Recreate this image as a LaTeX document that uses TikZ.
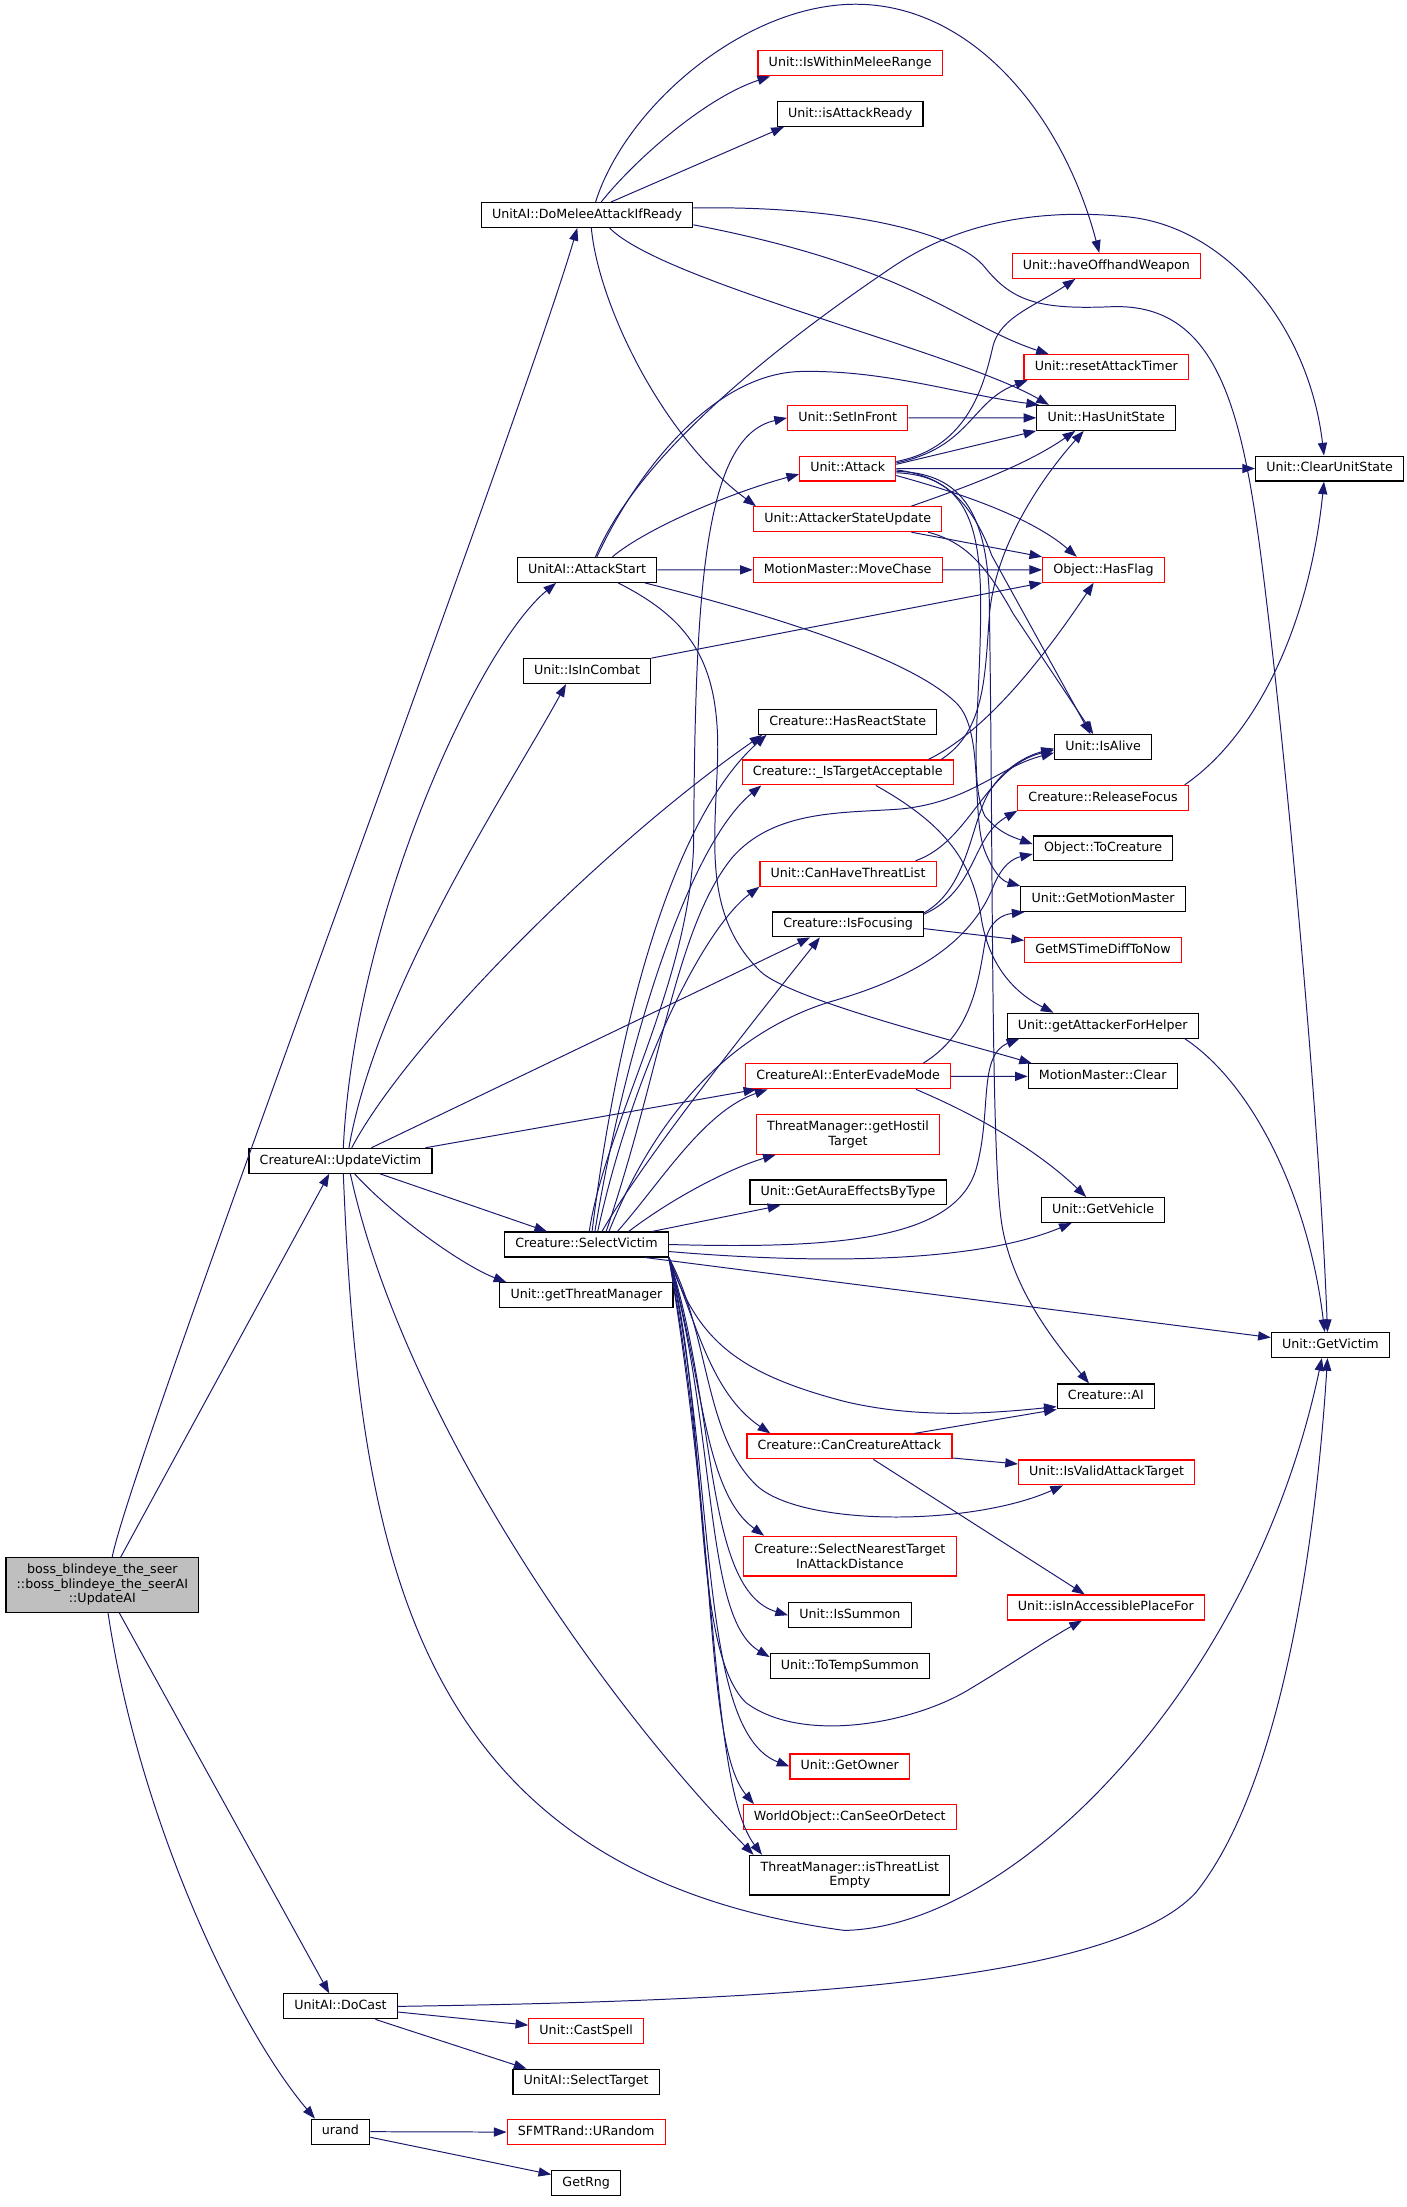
\documentclass[tikz,border=0pt]{standalone}
\usepackage{fontspec}
\setmainfont{DejaVu Sans}
\usetikzlibrary{arrows.meta,positioning}
\definecolor{edgeblue}{RGB}{25,25,112}
\definecolor{bossgray}{RGB}{191,191,191}

\begin{document}
\begin{tikzpicture}[
        x=1pt, y=-1pt,
        node distance=17.5pt,
        >={Triangle[length=9pt,width=6.5pt]},
        box/.style={draw=black, line width=0.8pt, inner xsep=7.6pt, inner ysep=0pt, font=\fontsize{9}{10.3}\selectfont},
        fn/.style={box, minimum height=17.7pt, text height=6.6pt, text depth=1.9pt},
        fnred/.style={fn, draw=red},
        fntwo/.style={box, align=center, minimum height=28.2pt},
        fntwored/.style={fntwo, draw=red},
        e/.style={->, draw=edgeblue, line width=0.7pt}
    ]
    \useasboundingbox (0,0) rectangle (1000,1568.6);

    % Nodes
    \node (boss) [box, fill=bossgray, align=center, minimum height=38.7pt] at (72.75,1126.5) {boss\_blindeye\_the\_seer\\::boss\_blindeye\_the\_seerAI\\::UpdateAI};

    \node (domelee) [fn] at (417.3,152.8) {UnitAI::DoMeleeAttackIfReady};
    \node (attackstart) [fn] at (417.25,405) {UnitAI::AttackStart};
    \node (isincombat) [fn] at (417.25,477) {Unit::IsInCombat};
    \node (updatevictim) [fn] at (242,825) {CreatureAI::UpdateVictim};
    \node (selectvictim) [fn] at (416.8,884.5) {Creature::SelectVictim};
    \node (getthreatmgr) [fn, below=of selectvictim] {Unit::getThreatManager};
    \node (docast) [fn] at (242,1426) {UnitAI::DoCast};
    \node (urand) [fn] at (242,1515) {urand};

    \node (withinmelee) [fnred] at (604.25,45) {Unit::IsWithinMeleeRange};
    \node (attackready) [fn, below=of withinmelee] {Unit::isAttackReady};
    \node (setinfront) [fnred] at (602.5,297) {Unit::SetInFront};
    \node (attack) [fnred, below=of setinfront] {Unit::Attack};
    \node (attackerstate) [fnred, below=of attack] {Unit::AttackerStateUpdate};
    \node (movechase) [fnred, below=of attackerstate] {MotionMaster::MoveChase};
    \node (hasreact) [fn] at (602.5,513) {Creature::HasReactState};
    \node (targetacc) [fnred, below=of hasreact] {Creature::\_IsTargetAcceptable};
    \node (canthreat) [fnred] at (602.75,621) {Unit::CanHaveThreatList};
    \node (isfocusing) [fn, below=of canthreat] {Creature::IsFocusing};
    \node (evade) [fnred] at (602.75,765) {CreatureAI::EnterEvadeMode};
    \node (hostiltarget) [fntwored, below=of evade] {ThreatManager::getHostil\\Target};
    \node (auraeffects) [fn, below=of hostiltarget] {Unit::GetAuraEffectsByType};
    \node (cancreature) [fnred] at (603.75,1028) {Creature::CanCreatureAttack};
    \node (selectnearest) [fntwored] at (604,1106) {Creature::SelectNearestTarget\\InAttackDistance};
    \node (issummon) [fn] at (604,1148) {Unit::IsSummon};
    \node (totemp) [fn, below=of issummon] {Unit::ToTempSummon};
    \node (getowner) [fnred] at (604,1255.5) {Unit::GetOwner};
    \node (canseeor) [fnred, below=of getowner] {WorldObject::CanSeeOrDetect};
    \node (threatempty) [fntwo, below=of canseeor] {ThreatManager::isThreatList\\Empty};
    \node (castspell) [fnred] at (416.6,1443.5) {Unit::CastSpell};
    \node (selecttarget) [fn, below=of castspell] {UnitAI::SelectTarget};
    \node (urandom) [fnred, below=of selecttarget] {SFMTRand::URandom};
    \node (getrng) [fn, below=of urandom] {GetRng};

    \node (offhand) [fnred] at (786.3,189) {Unit::haveOffhandWeapon};
    \node (resettimer) [fnred] at (786.25,261) {Unit::resetAttackTimer};
    \node (hasunitstate) [fn, below=of resettimer] {Unit::HasUnitState};
    \node (hasflag) [fnred] at (784.3,405) {Object::HasFlag};
    \node (isalive) [fn] at (784,531) {Unit::IsAlive};
    \node (releasefocus) [fnred, below=of isalive] {Creature::ReleaseFocus};
    \node (tocreature) [fn, below=of releasefocus] {Object::ToCreature};
    \node (motionmaster) [fn, below=of tocreature] {Unit::GetMotionMaster};
    \node (msdiff) [fnred, below=of motionmaster] {GetMSTimeDiffToNow};
    \node (attackerhelper) [fn] at (783.75,729) {Unit::getAttackerForHelper};
    \node (mmclear) [fn, below=of attackerhelper] {MotionMaster::Clear};
    \node (getvehicle) [fn] at (784,860) {Unit::GetVehicle};
    \node (creatureai) [fn] at (786,992.5) {Creature::AI};
    \node (validattack) [fnred] at (786.5,1046.5) {Unit::IsValidAttackTarget};
    \node (accessible) [fnred] at (786,1142.5) {Unit::isInAccessiblePlaceFor};

    \node (clearstate) [fn] at (945,333) {Unit::ClearUnitState};
    \node (getvictim) [fn] at (945.5,956) {Unit::GetVictim};

    % Edges
    \draw[e] ([xshift=7pt]boss.north) .. controls (92,1040) and (370,300) .. ([xshift=-7pt]domelee.south);
    \draw[e] ([xshift=13pt]boss.north) -- ([xshift=-8pt]updatevictim.south);
    \draw[e] ([xshift=12pt]boss.south) -- ([xshift=-8pt]docast.north);
    \draw[e] ([xshift=4pt]boss.south) .. controls (100,1300) and (172,1445) .. ([xshift=3pt]urand.north west);

    \draw[e] ([xshift=10pt]domelee.north) .. controls (450,115) and (500,70) .. ([xshift=9pt]withinmelee.south west);
    \draw[e] ([xshift=17pt]domelee.north) -- ([xshift=5pt]attackready.south west);
    \draw[e] ([xshift=6pt]domelee.north) .. controls (445,75) and (530,3) .. (608,3) .. controls (690,3) and (755,80) .. ([xshift=-5pt]offhand.north);
    \draw[e] ([yshift=-7pt]domelee.east) .. controls (650,190) and (680,230) .. ([xshift=18pt]resettimer.north west);
    \draw[e] ([xshift=16pt]domelee.south) .. controls (470,200) and (680,250) .. ([xshift=9pt]hasunitstate.north west);
    \draw[e] ([xshift=3pt]domelee.south) .. controls (425,215) and (470,310) .. ([xshift=2pt]attackerstate.north west);
    \draw[e] ([yshift=5pt]domelee.east) .. controls (600,146) and (680,165) .. (700,190) .. controls (720,215) and (740,220) .. (790,218) .. controls (870,215) and (885,300) .. (900,426) .. controls (915,550) and (938,800) .. ([xshift=-2pt]getvictim.north);

    \draw[e] ([xshift=6pt]attackstart.north) .. controls (455,320) and (560,240) .. (634,190) .. controls (693,150) and (760,150) .. (800,154) .. controls (870,160) and (930,230) .. ([xshift=-4pt]clearstate.north);
    \draw[e] ([xshift=7pt]attackstart.north) .. controls (450,340) and (505,265) .. (570,264) .. controls (630,263) and (680,280) .. ([xshift=2pt]hasunitstate.north west);
    \draw[e] ([xshift=18pt]attackstart.north) .. controls (460,375) and (520,350) .. ([yshift=-4pt]attack.west);
    \draw[e] (attackstart) -- (movechase);
    \draw[e] ([xshift=-9pt]attackstart.south east) .. controls (560,440) and (650,470) .. (680,500) .. controls (700,520) and (690,580) .. (700,605) .. controls (706,620) and (712,626) .. (motionmaster.north west);
    \draw[e] ([xshift=22pt]attackstart.south) .. controls (490,440) and (512,470) .. (510,540) .. controls (508,600) and (500,650) .. (540,690) .. controls (560,710) and (680,740) .. ([xshift=3pt]mmclear.north west);

    \draw[e] (isincombat.north east) -- (hasflag.south west);
    \draw[e] (movechase) -- (hasflag);
    \draw[e] (setinfront) -- (hasunitstate);

    \draw[e] ([xshift=2pt]updatevictim.north) .. controls (252,650) and (340,460) .. ([xshift=-22pt]attackstart.south);
    \draw[e] ([xshift=6pt]updatevictim.north) .. controls (268,700) and (365,555) .. ([xshift=-15pt]isincombat.south);
    \draw[e] ([xshift=8pt]updatevictim.north) .. controls (290,740) and (430,600) .. ([xshift=3pt]hasreact.south west);
    \draw[e] ([xshift=22pt]updatevictim.north) -- ([xshift=-27pt]isfocusing.south);
    \draw[e] ([xshift=-5pt]updatevictim.north east) -- ([xshift=8pt]evade.south west);
    \draw[e] ([xshift=28pt]updatevictim.south) -- ([xshift=-28pt]selectvictim.north);
    \draw[e] ([xshift=10pt]updatevictim.south) .. controls (280,865) and (330,900) .. ([xshift=5pt]getthreatmgr.north west);
    \draw[e] ([xshift=7pt]updatevictim.south) .. controls (285,1000) and (420,1200) .. ([xshift=3pt]threatempty.north west);
    \draw[e] ([xshift=2pt]updatevictim.south) .. controls (255,1100) and (290,1330) .. (600,1372) .. controls (720,1370) and (890,1200) .. ([xshift=-6pt]getvictim.south);

    \draw[e] (docast.east) .. controls (550,1422) and (790,1410) .. (850,1345) .. controls (910,1270) and (935,1100) .. ([xshift=-2pt]getvictim.south);
    \draw[e] ([yshift=-4pt]docast.east) -- (castspell);
    \draw[e] ([xshift=-16pt]docast.south east) -- ([xshift=10pt]selecttarget.north west);

    \draw[e] (urand) -- (urandom);
    \draw[e] ([yshift=-4pt]urand.east) -- ([yshift=6pt]getrng.west);

    \draw[e] ([xshift=2pt]selectvictim.north) .. controls (430,800) and (490,700) .. (493,600) .. controls (494,420) and (500,310) .. (setinfront.west);
    \draw[e] ([xshift=4pt]selectvictim.north) .. controls (440,720) and (480,580) .. ([xshift=6pt]hasreact.south west);
    \draw[e] ([xshift=6pt]selectvictim.north) .. controls (445,740) and (490,600) .. ([xshift=14pt]targetacc.south west);
    \draw[e] ([xshift=8pt]selectvictim.north) .. controls (450,760) and (500,660) .. (canthreat.south west);
    \draw[e] ([xshift=11pt]selectvictim.north) .. controls (460,820) and (540,720) .. ([xshift=-20pt]isfocusing.south);
    \draw[e] ([xshift=14pt]selectvictim.north) .. controls (470,760) and (480,660) .. (520,610) .. controls (550,575) and (600,578) .. (640,575) .. controls (690,570) and (710,545) .. ([yshift=-4pt]isalive.west);
    \draw[e] ([xshift=16pt]selectvictim.north) .. controls (455,820) and (500,740) .. (590,712) .. controls (650,695) and (690,670) .. (706,630) .. controls (712,615) and (720,610) .. ([yshift=-4pt]tocreature.west);
    \draw[e] ([xshift=22pt]selectvictim.north) .. controls (470,840) and (500,790) .. ([xshift=16pt]evade.south west);
    \draw[e] ([xshift=30pt]selectvictim.north) .. controls (480,850) and (520,830) .. ([xshift=14pt]hostiltarget.south west);
    \draw[e] ([xshift=-12pt]selectvictim.north east) -- ([xshift=22pt]auraeffects.south west);

    \draw[e] (selectvictim.east) .. controls (600,888) and (680,880) .. (694,830) .. controls (705,790) and (695,750) .. ([xshift=9pt]attackerhelper.south west);
    \draw[e] ([yshift=-5pt]selectvictim.east) .. controls (600,900) and (700,895) .. ([xshift=22pt]getvehicle.south west);
    \draw[e] ([xshift=-17pt]selectvictim.south east) -- (getvictim);

    \draw[e] (selectvictim.south east) .. controls (495,950) and (520,975) .. (600,996) .. controls (650,1008) and (700,1005) .. ([yshift=2pt]creatureai.south west);
    \draw[e] (selectvictim.south east) .. controls (495,940) and (505,990) .. ([xshift=17pt]cancreature.north west);
    \draw[e] (selectvictim.south east) .. controls (505,950) and (500,1020) .. (538,1056) .. controls (570,1085) and (690,1085) .. ([xshift=-31pt]validattack.south);
    \draw[e] (selectvictim.south east) .. controls (500,980) and (500,1060) .. ([xshift=15pt]selectnearest.north west);
    \draw[e] (selectvictim.south east) .. controls (510,1000) and (500,1130) .. (issummon.west);
    \draw[e] (selectvictim.south east) .. controls (510,1020) and (500,1150) .. ([yshift=-3pt]totemp.north west);
    \draw[e] (selectvictim.south east) .. controls (505,1010) and (490,1170) .. (530,1210) .. controls (570,1240) and (650,1225) .. (690,1200) .. controls (720,1182) and (745,1165) .. ([xshift=-17pt]accessible.south);
    \draw[e] (selectvictim.south east) .. controls (510,1050) and (495,1230) .. (getowner.west);
    \draw[e] (selectvictim.south east) .. controls (510,1080) and (500,1240) .. ([xshift=8pt]canseeor.north west);
    \draw[e] (selectvictim.south east) .. controls (510,1100) and (505,1270) .. ([xshift=9pt]threatempty.north west);

    \draw[e] ([yshift=5pt]attack.east) .. controls (690,318) and (700,270) .. (706,245) .. controls (712,225) and (735,218) .. ([xshift=-22pt]offhand.south);
    \draw[e] ([yshift=4pt]attack.east) .. controls (690,318) and (690,285) .. ([xshift=3pt]resettimer.south west);
    \draw[e] ([yshift=3pt]attack.east) -- (hasunitstate.south west);
    \draw[e] (attack) -- (clearstate);
    \draw[e] ([yshift=-5pt]attack.east) .. controls (670,347) and (730,365) .. ([xshift=-19pt]hasflag.north);
    \draw[e] ([yshift=-1pt]attack.east) .. controls (670,338) and (690,355) .. (705,395) -- ([xshift=-9pt]isalive.north);
    \draw[e] ([yshift=-2pt]attack.east) .. controls (680,336) and (700,360) .. (703,420) .. controls (706,600) and (704,820) .. (712,870) .. controls (720,920) and (755,960) .. ([xshift=-12pt]creatureai.north);
    \draw[e] ([yshift=-3pt]attack.east) .. controls (685,338) and (697,370) .. (697,430) .. controls (697,500) and (688,555) .. (700,580) .. controls (710,592) and (720,595) .. ([yshift=3pt]tocreature.west);

    \draw[e] ([xshift=-22pt]attackerstate.north east) .. controls (690,345) and (730,330) .. ([xshift=-22pt]hasunitstate.south);
    \draw[e] ([xshift=-22pt]attackerstate.south east) -- (hasflag.north west);
    \draw[e] ([xshift=-10pt]attackerstate.south east) .. controls (685,385) and (700,400) .. (720,436) -- ([xshift=-7pt]isalive.north);

    \draw[e] ([xshift=-9pt]targetacc.north east) .. controls (700,520) and (700,480) .. (703,440) .. controls (706,390) and (740,340) .. ([xshift=-16pt]hasunitstate.south);
    \draw[e] ([xshift=-18pt]targetacc.north east) .. controls (700,520) and (740,470) .. ([xshift=-7pt]hasflag.south);
    \draw[e] ([xshift=20pt]targetacc.south) .. controls (670,585) and (690,610) .. (697,650) .. controls (702,685) and (720,705) .. ([xshift=-35pt]attackerhelper.north);

    \draw[e] ([xshift=-15pt]canthreat.north east) .. controls (690,598) and (700,545) .. ([yshift=-2pt]isalive.west);

    \draw[e] ([yshift=-1pt]isfocusing.north east) .. controls (690,630) and (690,580) .. (705,560) .. controls (715,545) and (730,537) .. ([yshift=-1pt]isalive.west);
    \draw[e] ([yshift=-2pt]isfocusing.north east) .. controls (695,632) and (690,595) .. (releasefocus.south west);
    \draw[e] ([yshift=-3pt]isfocusing.east) -- (msdiff);

    \draw[e] (evade) -- (mmclear);
    \draw[e] ([xshift=-20pt]evade.north east) .. controls (690,735) and (695,700) .. (700,670) .. controls (703,655) and (712,650) .. ([xshift=3pt]motionmaster.south west);
    \draw[e] ([xshift=-25pt]evade.south east) .. controls (700,795) and (740,820) .. ([xshift=-12pt]getvehicle.north);

    \draw[e] ([xshift=-27pt]cancreature.north east) -- (creatureai.south west);
    \draw[e] ([yshift=1pt]cancreature.south east) -- ([yshift=6pt]validattack.west);
    \draw[e] ([xshift=17pt]cancreature.south) -- ([xshift=-15pt]accessible.north);

    \draw[e] ([xshift=-10pt]attackerhelper.south east) .. controls (890,770) and (930,850) .. ([xshift=-4pt]getvictim.north);
    \draw[e] ([xshift=-3pt]releasefocus.north east) .. controls (890,525) and (930,450) .. ([xshift=-4pt]clearstate.south);

\end{tikzpicture}
\end{document}
